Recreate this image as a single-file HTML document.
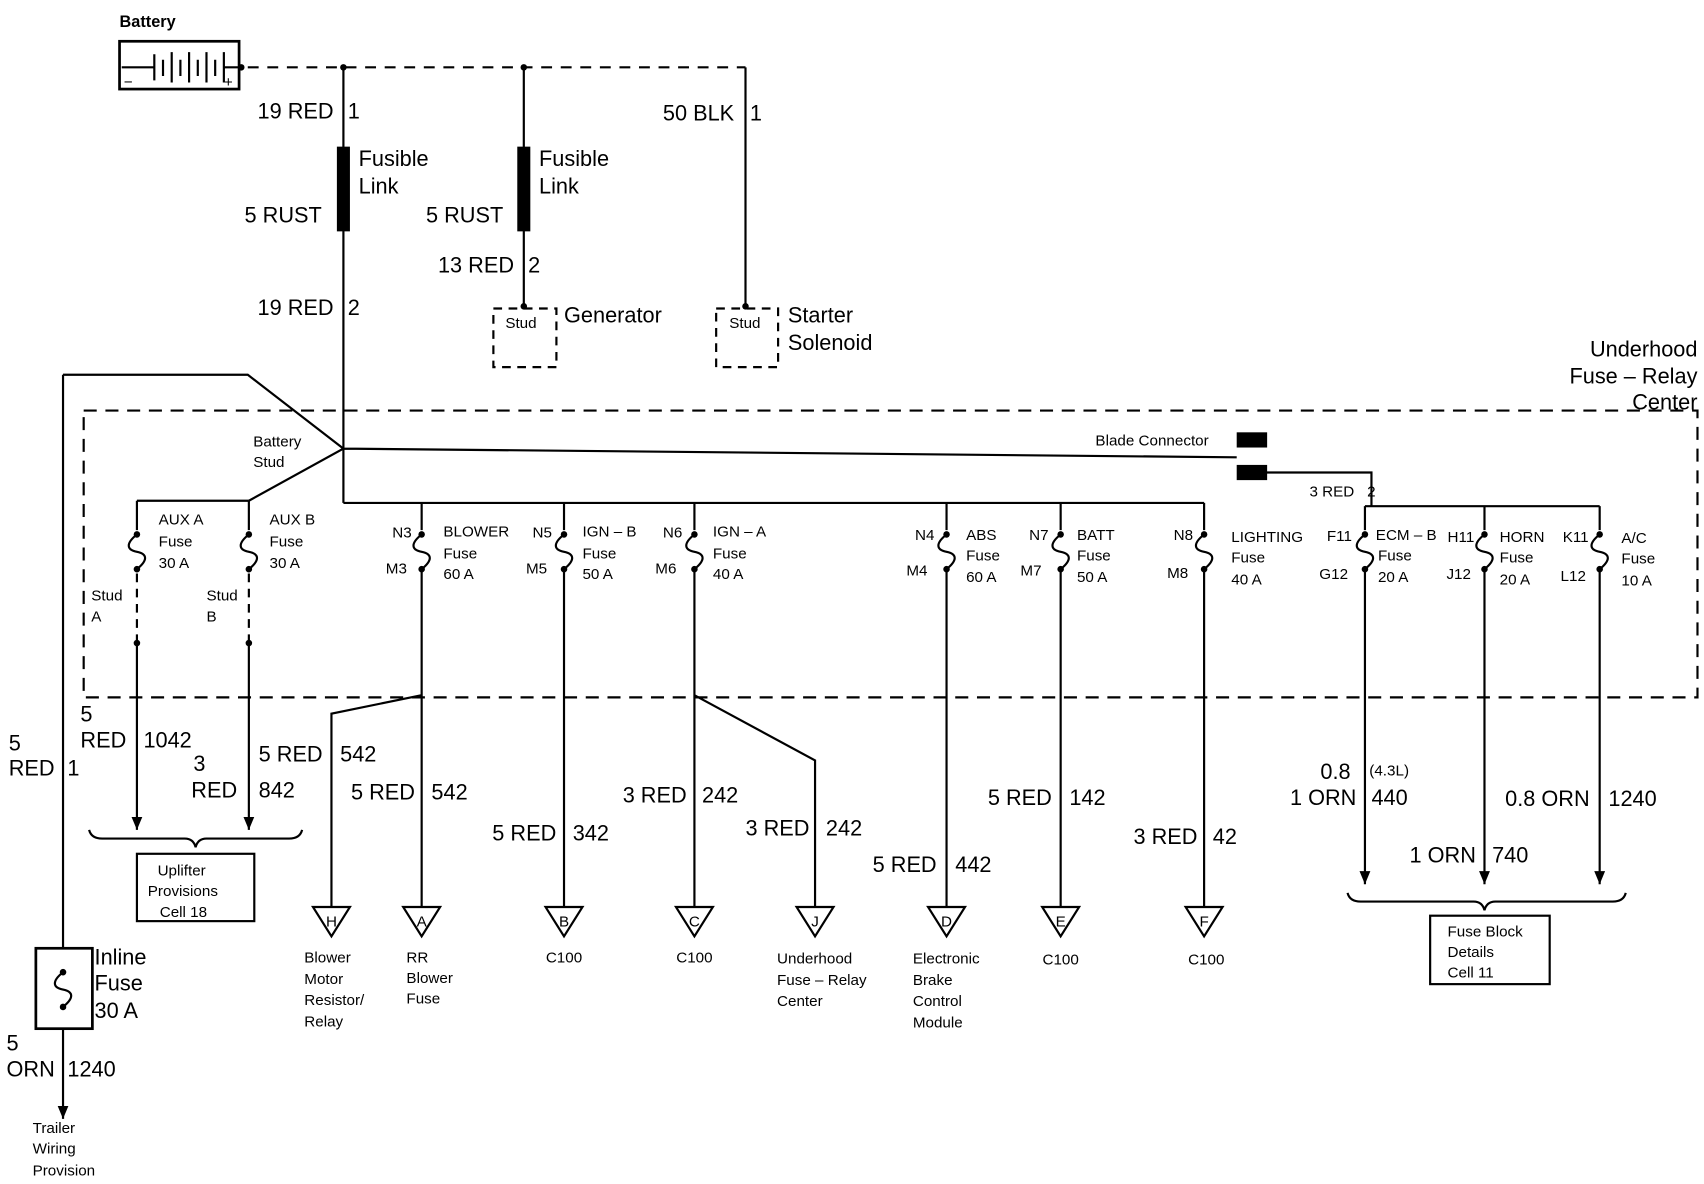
<!DOCTYPE html>
<html><head><meta charset="utf-8"><style>
html,body{margin:0;padding:0;background:#fff;}
svg{display:block;}
text{font-family:"Liberation Sans",Arial,sans-serif;fill:#000;}
.b{font-size:20px;}
.s{font-size:14px;}
.m{font-size:15px;}
</style></head><body>
<svg width="1704" height="1184" viewBox="0 0 1568 1090" preserveAspectRatio="none" xmlns="http://www.w3.org/2000/svg">
<defs>
<marker id="ar" markerWidth="14" markerHeight="12" refX="12" refY="5" orient="auto" markerUnits="userSpaceOnUse"><path d="M0,0 L12,5 L0,10 Z" fill="#000"/></marker>
<g id="fuse"><circle cx="0" cy="0" r="3" fill="#000"/><path d="M0,0 C-10,8 -10,14 0,16 C10,18 10,24 0,32" fill="none" stroke="#000" stroke-width="2"/><circle cx="0" cy="32" r="3" fill="#000"/></g>
</defs>
<g stroke="#000" stroke-width="2" fill="none">
<rect x="110" y="38" width="110" height="44" stroke-width="2.5"/>
<path d="M112,62 H142 M142,50 V74 M150,55 V70 M158,48 V76 M166,55 V70 M174,48 V76 M182,55 V70 M190,48 V76 M198,55 V70 M206,48 V76 M206,62 H220"/>
<path d="M228,62 H686" stroke-dasharray="10,8"/>
<path d="M316,62 V463 M482,62 V282 M686,62 V282"/>
<rect x="311" y="136" width="10" height="76" fill="#000"/>
<rect x="477" y="136" width="10" height="76" fill="#000"/>
<rect x="454" y="284" width="58" height="54" stroke-dasharray="8,6"/>
<rect x="659" y="284" width="57" height="54" stroke-dasharray="8,6"/>
<rect x="77" y="378" width="1485" height="264" stroke-dasharray="12,8"/>
<path d="M58,345 H228 L316,413 L229,461 M316,413 L1138,421"/>
<path d="M58,345 V873"/>
<path d="M126,461 H229 M126,461 V488 M229,461 V488"/>
<path d="M126,528 V592 M229,528 V592" stroke-dasharray="8,6"/>
<path d="M126,592 V764" marker-end="url(#ar)"/>
<path d="M229,592 V764" marker-end="url(#ar)"/>
<path d="M316,463 H1108 M388,463 V488 M519,463 V488 M639,463 V488 M871,463 V488 M976,463 V488 M1108,463 V488"/>
<path d="M388,524 V835 M519,524 V835 M639,524 V835 M871,524 V835 M976,524 V835 M1108,524 V835"/>
<path d="M388,640 L305,657 V835 M639,640 L750,700 V835"/>
<path d="M1165,435 H1262 V466 M1256,466 H1472 M1256,466 V488 M1366,466 V488 M1472,466 V488"/>
<path d="M1256,524 V814" marker-end="url(#ar)"/>
<path d="M1366,524 V814" marker-end="url(#ar)"/>
<path d="M1472,524 V814" marker-end="url(#ar)"/>
<path d="M288,835 H322 L305,862 Z M371,835 H405 L388,862 Z M502,835 H536 L519,862 Z M622,835 H656 L639,862 Z M733,835 H767 L750,862 Z M854,835 H888 L871,862 Z M959,835 H993 L976,862 Z M1091,835 H1125 L1108,862 Z"/>
<path d="M82,764 Q84,772 94,772 H170 Q178,772 180,780 Q182,772 190,772 H266 Q276,772 278,764"/>
<rect x="126" y="786" width="108" height="62"/>
<path d="M1240,822 Q1242,830 1252,830 H1356 Q1364,830 1366,838 Q1368,830 1376,830 H1484 Q1494,830 1496,822"/>
<rect x="1316" y="843" width="110" height="63"/>
<rect x="33" y="873" width="52" height="74" stroke-width="2.5"/>
<path d="M58,947 V1030" marker-end="url(#ar)"/>
</g>
<rect x="1138" y="398" width="28" height="14" fill="#000"/>
<rect x="1138" y="428" width="28" height="14" fill="#000"/>
<g fill="#000">
<circle cx="222" cy="62" r="3"/><circle cx="316" cy="62" r="3"/><circle cx="482" cy="62" r="3"/>
<circle cx="482" cy="282" r="3"/><circle cx="686" cy="282" r="3"/>
<circle cx="126" cy="592" r="3"/><circle cx="229" cy="592" r="3"/>
</g>
<use href="#fuse" x="126" y="492"/><use href="#fuse" x="229" y="492"/>
<use href="#fuse" x="388" y="492"/><use href="#fuse" x="519" y="492"/><use href="#fuse" x="639" y="492"/>
<use href="#fuse" x="871" y="492"/><use href="#fuse" x="976" y="492"/><use href="#fuse" x="1108" y="492"/>
<use href="#fuse" x="1256" y="492"/><use href="#fuse" x="1366" y="492"/><use href="#fuse" x="1472" y="492"/>
<g stroke="#000" stroke-width="2" fill="none"><path d="M58,895 C48,903 48,909 58,911 C68,913 68,919 58,927"/></g>
<circle cx="58" cy="895" r="3"/><circle cx="58" cy="927" r="3"/>
<text x="110" y="25" class="m" font-weight="bold">Battery</text>
<text x="114" y="80" class="s">−</text><text x="206" y="80" class="s">+</text>
<text x="237" y="109" class="b">19 RED</text><text x="320" y="109" class="b">1</text>
<text x="330" y="153" class="b">Fusible</text><text x="330" y="178" class="b">Link</text>
<text x="225" y="205" class="b">5 RUST</text>
<text x="237" y="290" class="b">19 RED</text><text x="320" y="290" class="b">2</text>
<text x="496" y="153" class="b">Fusible</text><text x="496" y="178" class="b">Link</text>
<text x="392" y="205" class="b">5 RUST</text>
<text x="403" y="251" class="b">13 RED</text><text x="486" y="251" class="b">2</text>
<text x="610" y="111" class="b">50 BLK</text><text x="690" y="111" class="b">1</text>
<text x="465" y="302" class="s">Stud</text><text x="519" y="297" class="b">Generator</text>
<text x="671" y="302" class="s">Stud</text><text x="725" y="297" class="b">Starter</text><text x="725" y="322" class="b">Solenoid</text>
<text x="1562" y="328" class="b" text-anchor="end">Underhood</text>
<text x="1562" y="353" class="b" text-anchor="end">Fuse – Relay</text>
<text x="1562" y="377" class="b" text-anchor="end">Center</text>
<text x="233" y="411" class="s">Battery</text><text x="233" y="430" class="s">Stud</text>
<text x="1008" y="410" class="s">Blade Connector</text>
<text x="1205" y="457" class="s">3 RED</text><text x="1258" y="457" class="s">2</text>
<text x="146" y="483" class="s">AUX A</text><text x="146" y="503" class="s">Fuse</text><text x="146" y="523" class="s">30 A</text>
<text x="248" y="483" class="s">AUX B</text><text x="248" y="503" class="s">Fuse</text><text x="248" y="523" class="s">30 A</text>
<text x="84" y="553" class="s">Stud</text><text x="84" y="572" class="s">A</text>
<text x="190" y="553" class="s">Stud</text><text x="190" y="572" class="s">B</text>
<text x="361" y="495" class="s">N3</text><text x="355" y="528" class="s">M3</text>
<text x="408" y="494" class="s">BLOWER</text><text x="408" y="514" class="s">Fuse</text><text x="408" y="533" class="s">60 A</text>
<text x="490" y="495" class="s">N5</text><text x="484" y="528" class="s">M5</text>
<text x="536" y="494" class="s">IGN – B</text><text x="536" y="514" class="s">Fuse</text><text x="536" y="533" class="s">50 A</text>
<text x="610" y="495" class="s">N6</text><text x="603" y="528" class="s">M6</text>
<text x="656" y="494" class="s">IGN – A</text><text x="656" y="514" class="s">Fuse</text><text x="656" y="533" class="s">40 A</text>
<text x="842" y="497" class="s">N4</text><text x="834" y="530" class="s">M4</text>
<text x="889" y="497" class="s">ABS</text><text x="889" y="516" class="s">Fuse</text><text x="889" y="536" class="s">60 A</text>
<text x="947" y="497" class="s">N7</text><text x="939" y="530" class="s">M7</text>
<text x="991" y="497" class="s">BATT</text><text x="991" y="516" class="s">Fuse</text><text x="991" y="536" class="s">50 A</text>
<text x="1080" y="497" class="s">N8</text><text x="1074" y="532" class="s">M8</text>
<text x="1133" y="499" class="s">LIGHTING</text><text x="1133" y="518" class="s">Fuse</text><text x="1133" y="538" class="s">40 A</text>
<text x="1221" y="498" class="s">F11</text><text x="1214" y="533" class="s">G12</text>
<text x="1266" y="497" class="s">ECM – B</text><text x="1268" y="516" class="s">Fuse</text><text x="1268" y="536" class="s">20 A</text>
<text x="1332" y="499" class="s">H11</text><text x="1331" y="533" class="s">J12</text>
<text x="1380" y="499" class="s">HORN</text><text x="1380" y="518" class="s">Fuse</text><text x="1380" y="538" class="s">20 A</text>
<text x="1438" y="499" class="s">K11</text><text x="1436" y="535" class="s">L12</text>
<text x="1492" y="500" class="s">A/C</text><text x="1492" y="519" class="s">Fuse</text><text x="1492" y="539" class="s">10 A</text>
<text x="74" y="664" class="b">5</text><text x="74" y="688" class="b">RED</text><text x="132" y="688" class="b">1042</text>
<text x="178" y="710" class="b">3</text><text x="176" y="734" class="b">RED</text><text x="238" y="734" class="b">842</text>
<text x="8" y="691" class="b">5</text><text x="8" y="714" class="b">RED</text><text x="62" y="714" class="b">1</text>
<text x="238" y="701" class="b">5 RED</text><text x="313" y="701" class="b">542</text>
<text x="323" y="736" class="b">5 RED</text><text x="397" y="736" class="b">542</text>
<text x="453" y="774" class="b">5 RED</text><text x="527" y="774" class="b">342</text>
<text x="573" y="739" class="b">3 RED</text><text x="646" y="739" class="b">242</text>
<text x="686" y="769" class="b">3 RED</text><text x="760" y="769" class="b">242</text>
<text x="803" y="803" class="b">5 RED</text><text x="879" y="803" class="b">442</text>
<text x="909" y="741" class="b">5 RED</text><text x="984" y="741" class="b">142</text>
<text x="1043" y="777" class="b">3 RED</text><text x="1116" y="777" class="b">42</text>
<text x="1215" y="717" class="b">0.8</text><text x="1260" y="714" class="s">(4.3L)</text>
<text x="1187" y="741" class="b">1 ORN</text><text x="1262" y="741" class="b">440</text>
<text x="1297" y="794" class="b">1 ORN</text><text x="1373" y="794" class="b">740</text>
<text x="1385" y="742" class="b">0.8 ORN</text><text x="1480" y="742" class="b">1240</text>
<text x="145" y="806" class="s">Uplifter</text><text x="136" y="825" class="s">Provisions</text><text x="147" y="844" class="s">Cell 18</text>
<text x="1332" y="862" class="s">Fuse Block</text><text x="1332" y="881" class="s">Details</text><text x="1332" y="900" class="s">Cell 11</text>
<text x="305" y="853" class="s" text-anchor="middle">H</text><text x="388" y="853" class="s" text-anchor="middle">A</text>
<text x="519" y="853" class="s" text-anchor="middle">B</text><text x="639" y="853" class="s" text-anchor="middle">C</text>
<text x="750" y="853" class="s" text-anchor="middle">J</text><text x="871" y="853" class="s" text-anchor="middle">D</text>
<text x="976" y="853" class="s" text-anchor="middle">E</text><text x="1108" y="853" class="s" text-anchor="middle">F</text>
<text x="280" y="886" class="s">Blower</text><text x="280" y="906" class="s">Motor</text><text x="280" y="925" class="s">Resistor/</text><text x="280" y="945" class="s">Relay</text>
<text x="374" y="886" class="s">RR</text><text x="374" y="905" class="s">Blower</text><text x="374" y="924" class="s">Fuse</text>
<text x="519" y="886" class="s" text-anchor="middle">C100</text><text x="639" y="886" class="s" text-anchor="middle">C100</text>
<text x="715" y="887" class="s">Underhood</text><text x="715" y="907" class="s">Fuse – Relay</text><text x="715" y="926" class="s">Center</text>
<text x="840" y="887" class="s">Electronic</text><text x="840" y="907" class="s">Brake</text><text x="840" y="926" class="s">Control</text><text x="840" y="946" class="s">Module</text>
<text x="976" y="888" class="s" text-anchor="middle">C100</text><text x="1110" y="888" class="s" text-anchor="middle">C100</text>
<text x="87" y="888" class="b">Inline</text><text x="87" y="912" class="b">Fuse</text><text x="87" y="937" class="b">30 A</text>
<text x="6" y="967" class="b">5</text><text x="6" y="991" class="b">ORN</text><text x="62" y="991" class="b">1240</text>
<text x="30" y="1043" class="s">Trailer</text><text x="30" y="1062" class="s">Wiring</text><text x="30" y="1082" class="s">Provision</text>
</svg>
</body></html>
